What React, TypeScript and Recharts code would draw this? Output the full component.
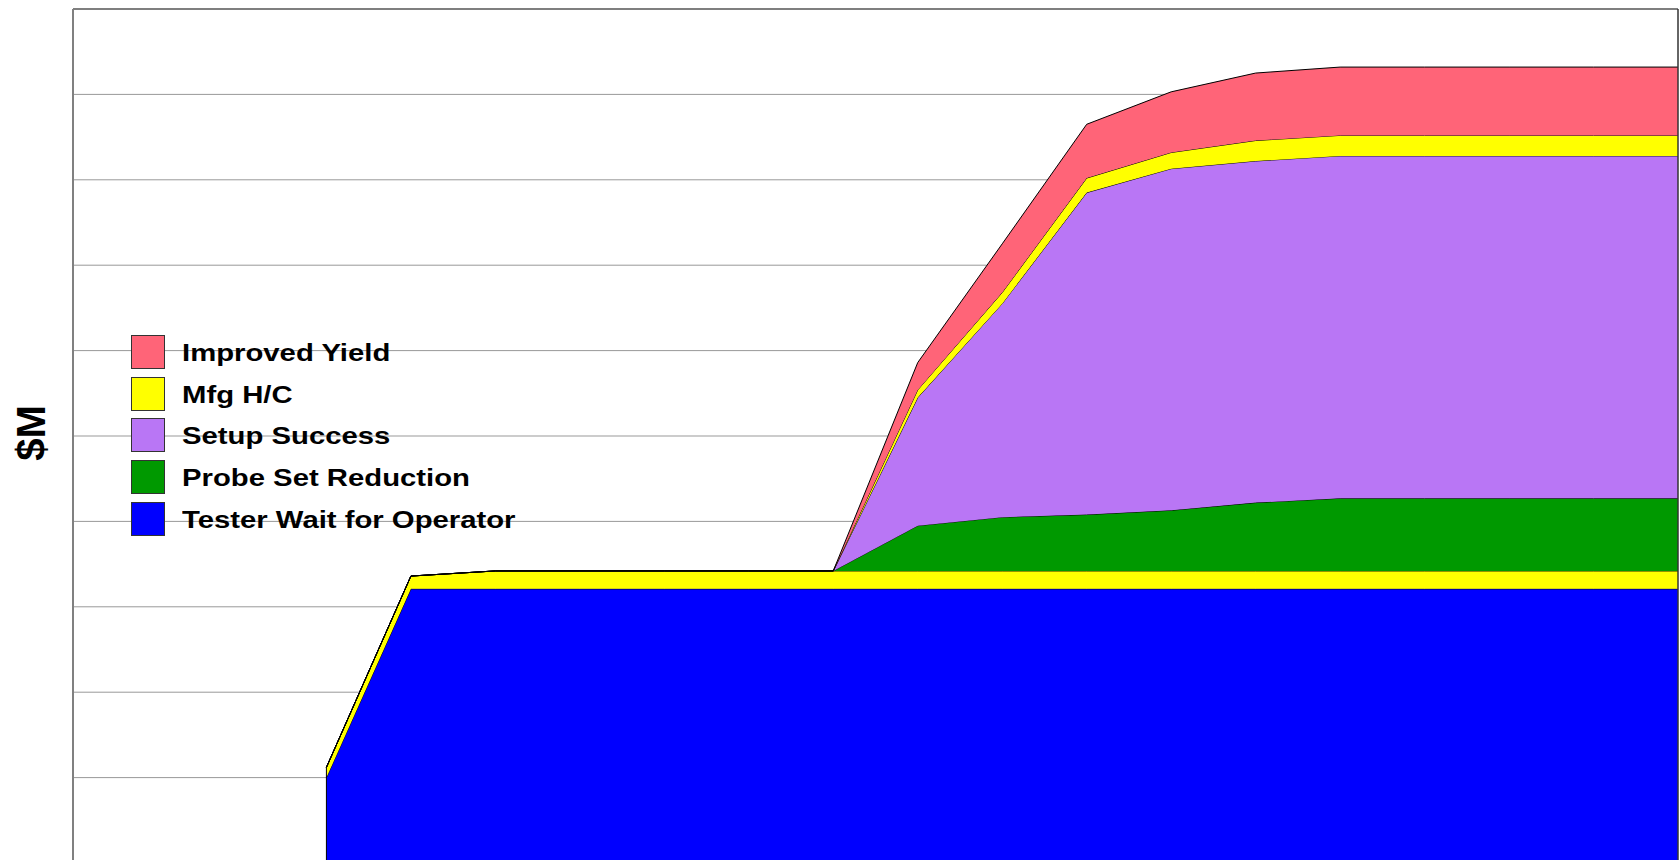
import { AreaChart, Area, XAxis, YAxis, ReferenceLine } from 'recharts';

// quarter index on the (hidden) x axis, 0..19
const periods = [3, 4, 5, 6, 7, 8, 9, 10, 11, 12, 13, 14, 15, 16, 17, 18, 19];

// $M, stacked bottom to top
const testerWait = [10.0, 32.1, 32.1, 32.1, 32.1, 32.1, 32.1, 32.1, 32.1, 32.1, 32.1, 32.1, 32.1, 32.1, 32.1, 32.1, 32.1];
const mfgHcBase = [1.2, 1.5, 2.1, 2.1, 2.1, 2.1, 2.1, 2.1, 2.1, 2.1, 2.1, 2.1, 2.1, 2.1, 2.1, 2.1, 2.1];
const probeSet = [0, 0, 0, 0, 0, 0, 0, 5.3, 6.3, 6.6, 7.1, 8.0, 8.5, 8.5, 8.5, 8.5, 8.5];
const setupSuccess = [0, 0, 0, 0, 0, 0, 0, 15.0, 25.0, 37.7, 40.0, 40.0, 40.1, 40.1, 40.1, 40.1, 40.1];
const mfgHcUpper = [0, 0, 0, 0, 0, 0, 0, 0.9, 1.3, 1.7, 1.9, 2.4, 2.4, 2.4, 2.4, 2.4, 2.4];
const improvedYield = [0, 0, 0, 0, 0, 0, 0, 3.2, 5.7, 6.3, 7.1, 7.9, 8.0, 8.0, 8.0, 8.0, 8.0];

const yTicks = [0, 10, 20, 30, 40, 50, 60, 70, 80, 90, 100];

const legendNames = ['Improved Yield', 'Mfg H/C', 'Setup Success', 'Probe Set Reduction', 'Tester Wait for Operator'];
const legendColors = ['#FF6478', '#FFFF00', '#B976F5', '#009900', '#0000FF'];

const series = [
  { key: 'wait', color: '#0000FF' },
  { key: 'hcBase', color: '#FFFF00' },
  { key: 'probe', color: '#009900' },
  { key: 'setup', color: '#B976F5' },
  { key: 'hcUpper', color: '#FFFF00' },
  { key: 'yield', color: '#FF6478' },
];

const rows = periods.map((x, i) => ({
  x,
  wait: testerWait[i],
  hcBase: mfgHcBase[i],
  probe: probeSet[i],
  setup: setupSuccess[i],
  hcUpper: mfgHcUpper[i],
  yield: improvedYield[i],
}));

const font = '"Liberation Sans", Arial, sans-serif';

export default function App() {
  return (
    <div style={{ position: 'fixed', left: 0, top: 0, width: 1679, height: 860, overflow: 'hidden', background: '#fff' }}>
      <AreaChart width={1679} height={870} data={rows} margin={{ top: 9, right: 1, bottom: 7, left: 0 }}>
        <XAxis type="number" dataKey="x" domain={[0, 19]} hide />
        <YAxis
          domain={[0, 100]}
          ticks={yTicks}
          width={73}
          tick={false}
          tickLine={false}
          axisLine={{ stroke: '#808080', strokeWidth: 2 }}
        />
        {/* horizontal gridlines, behind the areas */}
        {yTicks.slice(1, -1).map((v) => (
          <ReferenceLine key={'g' + v} y={v} stroke="#999" strokeWidth={1} zIndex={-50} />
        ))}
        {series.map((s) => (
          <Area
            key={s.key}
            type="linear"
            dataKey={s.key}
            stackId="a"
            fill={s.color}
            fillOpacity={1}
            stroke="#000"
            strokeWidth={1}
            dot={false}
            activeDot={false}
            isAnimationActive={false}
          />
        ))}
        <ReferenceLine
          segment={[
            { x: periods[0], y: 0 },
            { x: periods[0], y: testerWait[0] + mfgHcBase[0] },
          ]}
          stroke="#000"
        />
        <ReferenceLine y={100} stroke="#555" strokeWidth={1.5} />
        <ReferenceLine x={19} stroke="#333" strokeWidth={1.5} />
      </AreaChart>

      <div
        style={{
          position: 'absolute',
          left: 31,
          top: 433,
          transform: 'translate(-50%, -50%) rotate(-90deg)',
          fontFamily: font,
          fontWeight: 'bold',
          fontSize: 40,
          lineHeight: 1,
          whiteSpace: 'nowrap',
        }}
      >
        $M
      </div>

      <div style={{ position: 'absolute', left: 131, top: 335 }}>
        {legendNames.map((name, i) => (
          <div key={name} style={{ display: 'flex', alignItems: 'center', height: 41.7 }}>
            <div
              style={{
                width: 32,
                height: 32,
                background: legendColors[i],
                border: '1px solid #333',
                flex: 'none',
                alignSelf: 'flex-start',
              }}
            />
            <div
              style={{
                marginLeft: 17,
                marginTop: -6,
                fontFamily: font,
                fontWeight: 'bold',
                fontSize: 24,
                whiteSpace: 'nowrap',
                transform: 'scaleX(1.22)',
                transformOrigin: 'left center',
              }}
            >
              {name}
            </div>
          </div>
        ))}
      </div>
    </div>
  );
}
